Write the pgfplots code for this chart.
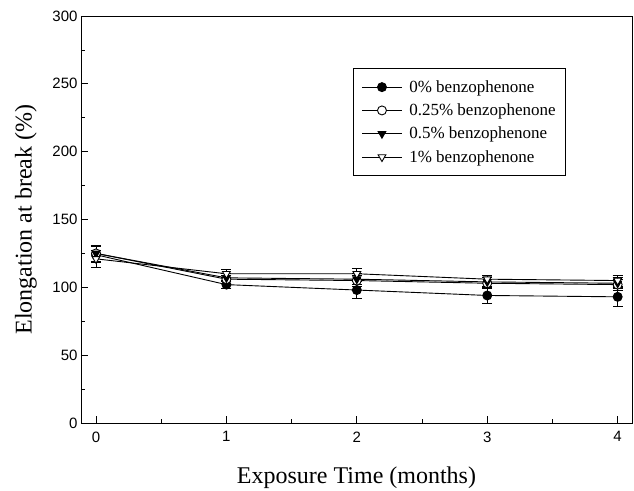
\documentclass[border=0pt]{standalone}
\usepackage{pgfplots}
\pgfplotsset{compat=1.18}
\usepackage{fontspec}
\setmainfont{Liberation Serif}
\newfontfamily\tickfont{Liberation Sans}
\begin{document}
\begin{tikzpicture}
\begin{axis}[
  scale only axis,
  width=551pt, height=407pt,
  xmin=-0.115, xmax=4.11,
  ymin=0, ymax=300,
  xtick={0,1,2,3,4},
  ytick={0,50,100,150,200,250,300},
  minor xtick={0.5,1.5,2.5,3.5},
  minor ytick={25,75,125,175,225,275},
  tick align=inside,
  xtick pos=bottom, ytick pos=left,
  major tick length=7pt, minor tick length=4pt,
  tick style={black, line width=0.8pt},
  axis line style={line width=0.9pt},
  /pgf/number format/assume math mode=true,
  ticklabel style={font=\fontsize{15}{18}\selectfont\tickfont},
  xticklabel style={yshift=-5pt},
  xlabel={Exposure Time (months)},
  ylabel={Elongation at break (\%)},
  label style={font=\fontsize{24}{28}\selectfont},
  xlabel style={at={(axis description cs:0.5,-0.135)}, anchor=center},
  ylabel style={at={(axis description cs:-0.1,0.5)}, anchor=center},
  legend style={at={(0.494,0.872)}, anchor=north west, draw=black, line width=0.8pt,
    font=\fontsize{17}{20}\selectfont, row sep=6pt, inner xsep=8pt, inner ysep=10pt,
    /tikz/every odd column/.append style={column sep=5pt}},
  legend cell align=left,
  legend image code/.code={\draw[mark repeat=2,mark phase=2] plot coordinates {(0cm,0cm) (0.7cm,0cm) (1.4cm,0cm)};},
  every axis plot/.append style={black, line width=0.9pt, mark size=4.5pt,
    error bars/error bar style={line width=0.9pt},
    error bars/error mark options={rotate=90, mark size=5pt, line width=0.9pt}},
]
\addplot[black, mark=*, mark options={fill=black, solid}, error bars/.cd, y dir=both, y explicit]
  coordinates {(0,124) +- (0,6) (1,102) +- (0,3) (2,98) +- (0,6) (3,94) +- (0,6) (4,93) +- (0,7)};
\addlegendentry{0\% benzophenone}
\addplot[black, mark=*, mark options={fill=white, solid}, error bars/.cd, y dir=both, y explicit]
  coordinates {(0,125) +- (0,6) (1,106) +- (0,3) (2,105) +- (0,4) (3,103) +- (0,4) (4,102) +- (0,4)};
\addlegendentry{0.25\% benzophenone}
\addplot[black, mark=triangle*, mark options={rotate=180, fill=black, solid}, error bars/.cd, y dir=both, y explicit]
  coordinates {(0,125) +- (0,6) (1,107) +- (0,3) (2,106) +- (0,4) (3,104) +- (0,3) (4,103) +- (0,4)};
\addlegendentry{0.5\% benzophenone}
\addplot[black, mark=triangle*, mark options={rotate=180, fill=white, solid}, error bars/.cd, y dir=both, y explicit]
  coordinates {(0,121) +- (0,6) (1,110) +- (0,3) (2,110) +- (0,4) (3,106) +- (0,3) (4,105) +- (0,4)};
\addlegendentry{1\% benzophenone}
\end{axis}
\pgfresetboundingbox
\path (current axis.south west) ++(-81pt,-68pt) rectangle ([xshift=2pt,yshift=16pt]current axis.north east);
\end{tikzpicture}
\end{document}
